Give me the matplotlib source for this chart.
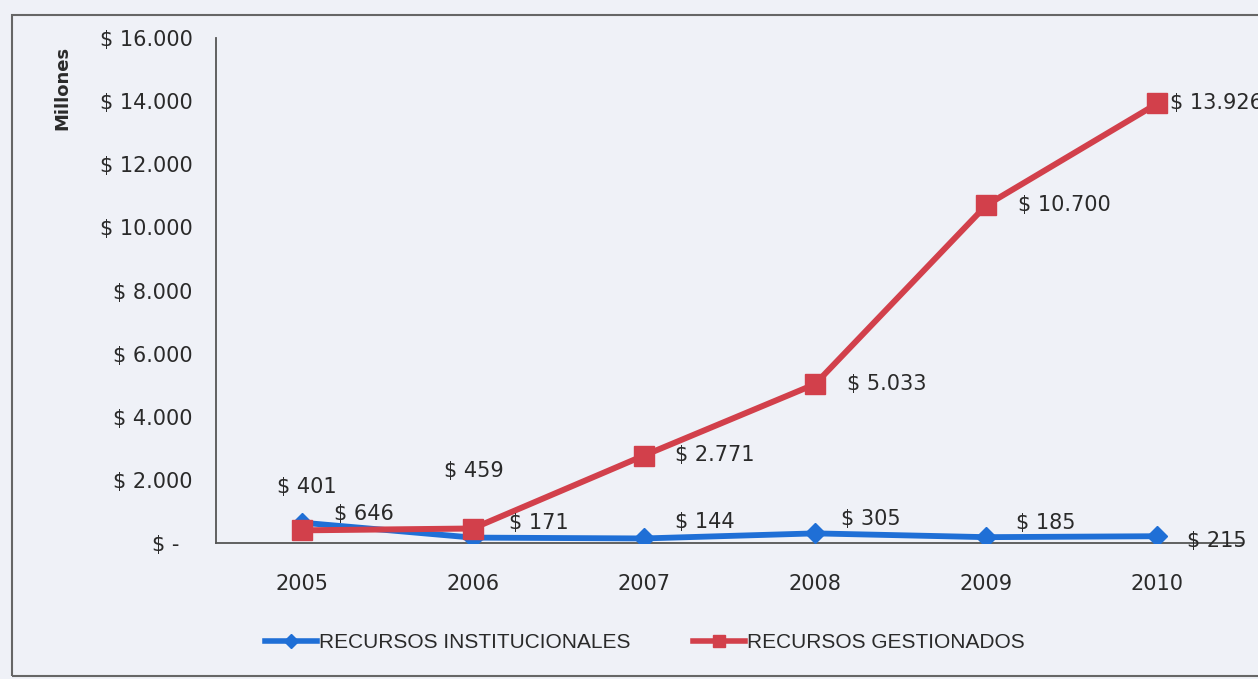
import matplotlib
matplotlib.use("Agg")
import matplotlib.pyplot as plt
from matplotlib.lines import Line2D
from matplotlib.patches import Rectangle

years = ["2005", "2006", "2007", "2008", "2009", "2010"]
institucionales = [646, 171, 144, 305, 185, 215]
gestionados = [401, 459, 2771, 5033, 10700, 13926]
y_ticks = [0, 2000, 4000, 6000, 8000, 10000, 12000, 14000, 16000]
y_tick_labels = ["$ -  ", "$ 2.000", "$ 4.000", "$ 6.000", "$ 8.000",
                 "$ 10.000", "$ 12.000", "$ 14.000", "$ 16.000"]
inst_labels = ["$ 646", "$ 171", "$ 144", "$ 305", "$ 185", "$ 215"]
gest_labels = ["$ 401", "$ 459", "$ 2.771", "$ 5.033", "$ 10.700", "$ 13.926"]

# label offsets in pixels (dx, dy) and horizontal alignment
inst_offsets = [(32, 9), (36, 15), (31, 16), (26, 14), (30, 14), (30, -5)]
gest_offsets = [(5, 43), (1, 58), (31, 1), (32, 0), (32, 0), (13, 0)]
gest_ha = ["center", "center", "left", "left", "left", "left"]

BLUE = "#1f6fd6"
RED = "#d2404b"
BG = "#eff1f7"
TXT = "#2a2a2a"

plt.rcParams['font.family'] = ['DejaVu Sans']

fig = plt.figure(figsize=(12.58, 6.79), dpi=100, facecolor=BG)
ax = fig.add_axes([216/1258, 1-543/679, (1243-216)/1258, (543-38)/679])
ax.set_facecolor(BG)

x = list(range(len(years)))
ax.plot(x, institucionales, color=BLUE, lw=4.2, marker="D", markersize=10,
        zorder=3)
ax.plot(x, gestionados, color=RED, lw=4.3, marker="s", markersize=14.5,
        zorder=4)

for i, (v, lab) in enumerate(zip(institucionales, inst_labels)):
    dx, dy = inst_offsets[i]
    ax.annotate(lab, (x[i], v), xytext=(dx, dy), textcoords="offset pixels",
                ha="left", va="center", fontsize=15, color=TXT,
                annotation_clip=False, zorder=6)
for i, (v, lab) in enumerate(zip(gestionados, gest_labels)):
    dx, dy = gest_offsets[i]
    ax.annotate(lab, (x[i], v), xytext=(dx, dy), textcoords="offset pixels",
                ha=gest_ha[i], va="center", fontsize=15, color=TXT,
                annotation_clip=False, zorder=6)

ax.set_xlim(-0.5, len(years) - 0.5)
ax.set_ylim(0, 16000)
ax.set_xticks(x)
ax.set_xticklabels(years)
ax.set_yticks(y_ticks)
ax.set_yticklabels(y_tick_labels)
ax.tick_params(axis="both", length=0, labelsize=15, colors=TXT)
ax.tick_params(axis="y", pad=17)
ax.tick_params(axis="x", pad=22)
for s in ["top", "right"]:
    ax.spines[s].set_visible(False)
for s in ["left", "bottom"]:
    ax.spines[s].set_color("#555555")
    ax.spines[s].set_linewidth(1.3)

fig.text(62/1258, 1-88/679, "Millones", rotation=90, ha="center",
         va="center", fontsize=13, fontweight="bold", color=TXT)

handles = [
    Line2D([], [], color=BLUE, lw=4, marker="D", markersize=7),
    Line2D([], [], color=RED, lw=4, marker="s", markersize=9),
]
leg = fig.legend(handles, ["RECURSOS INSTITUCIONALES", "RECURSOS GESTIONADOS"],
                 loc="center", bbox_to_anchor=(645/1258, 1-643/679), ncol=2,
                 frameon=False, prop={"family": "Liberation Sans", "size": 15},
                 handlelength=2.5, handletextpad=0.1, columnspacing=3.0)
for t in leg.get_texts():
    t.set_color(TXT)

fig.patches.append(Rectangle((12/1258, 1-676/679), 1.2, (676-15)/679,
                             transform=fig.transFigure, fill=False,
                             edgecolor="#666666", lw=1.5, zorder=0))

fig.savefig("out.png", dpi=100, facecolor=BG)
